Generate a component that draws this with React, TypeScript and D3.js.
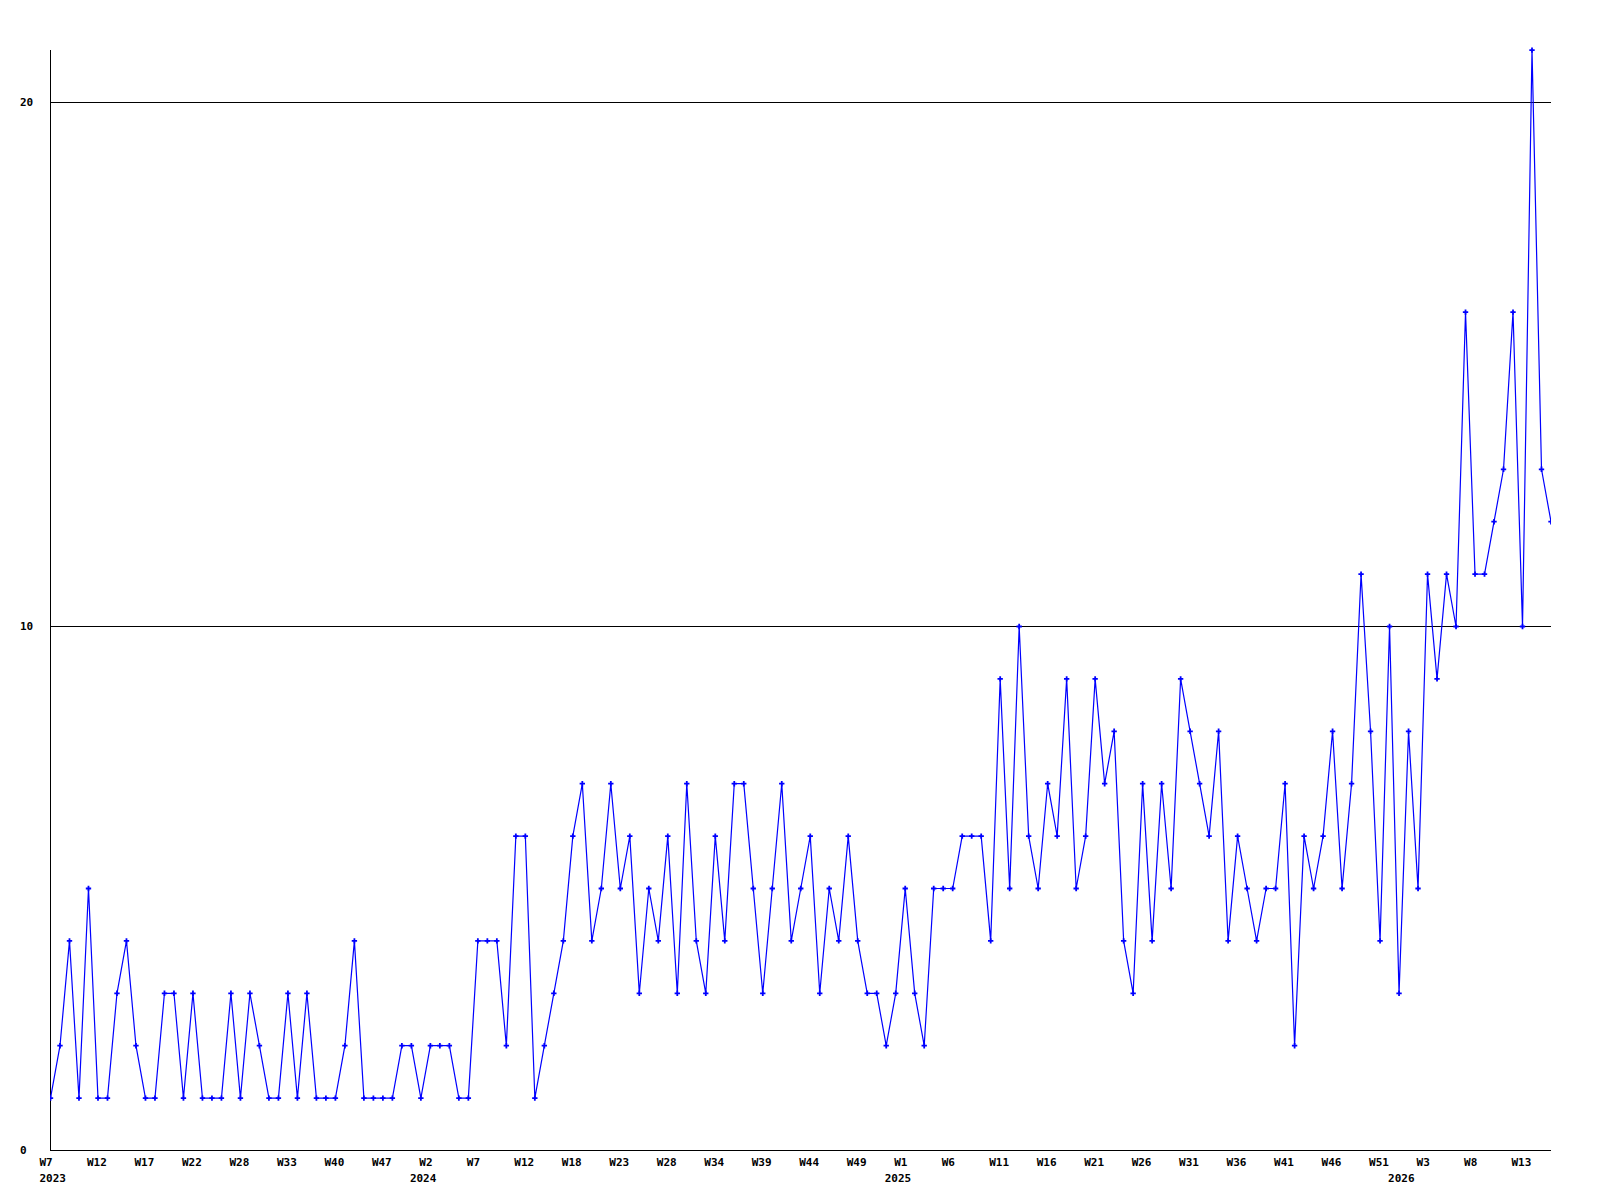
import React from 'react';
import * as d3 from 'd3';

// weekly counts, one per sample point (2023 W7 ... 2026)
const values: number[] = [
  1, 2, 4, 1, 5, 1, 1, 3, 4, 2,
  1, 1, 3, 3, 1, 3, 1, 1, 1, 3,
  1, 3, 2, 1, 1, 3, 1, 3, 1, 1,
  1, 2, 4, 1, 1, 1, 1, 2, 2, 1,
  2, 2, 2, 1, 1, 4, 4, 4, 2, 6,
  6, 1, 2, 3, 4, 6, 7, 4, 5, 7,
  5, 6, 3, 5, 4, 6, 3, 7, 4, 3,
  6, 4, 7, 7, 5, 3, 5, 7, 4, 5,
  6, 3, 5, 4, 6, 4, 3, 3, 2, 3,
  5, 3, 2, 5, 5, 5, 6, 6, 6, 4,
  9, 5, 10, 6, 5, 7, 6, 9, 5, 6,
  9, 7, 8, 4, 3, 7, 4, 7, 5, 9,
  8, 7, 6, 8, 4, 6, 5, 4, 5, 5,
  7, 2, 6, 5, 6, 8, 5, 7, 11, 8,
  4, 10, 3, 8, 5, 11, 9, 11, 10, 16,
  11, 11, 12, 13, 16, 10, 21, 13, 12,
];

const weekLabels: string[] = [
  'W7', 'W12', 'W17', 'W22', 'W28', 'W33', 'W40', 'W47',
  'W2', 'W7', 'W12', 'W18', 'W23', 'W28', 'W34', 'W39',
  'W44', 'W49', 'W1', 'W6', 'W11', 'W16', 'W21', 'W26',
  'W31', 'W36', 'W41', 'W46', 'W51', 'W3', 'W8', 'W13',
];
const weekLabelStep = 5;

const yearLabels: string[] = ['2023', '2024', '2025', '2026'];
const yearLabelIndex: number[] = [0, 39, 89, 142];

const yTicks: number[] = [0, 10, 20];
const yGridLines: number[] = [10, 20];
const yMax = 21;

export default function App() {
  const W = 1600;
  const H = 1200;
  const x = d3.scaleLinear().domain([0, values.length - 1]).range([50.5, 1551]);
  const y = d3.scaleLinear().domain([0, yMax]).range([1150.5, 50.1]);
  const linePath = d3
    .line<number>()
    .x((_, i) => x(i))
    .y((d) => y(d))(values) as string;
  const cross = d3.symbol().type(d3.symbolCross).size(16)() as string;
  const font = '"DejaVu Sans Mono", monospace';

  return (
    <svg
      width={W}
      height={H}
      style={{ position: 'absolute', left: 0, top: 0, background: '#fff' }}
    >
      <rect x={0} y={0} width={W} height={H} fill="#fff" />
      <defs>
        <clipPath id="plot">
          <rect x={50} y={44} width={1551 - 50} height={1110} />
        </clipPath>
      </defs>
      {/* gridlines */}
      {yGridLines.map((v) => (
        <line
          key={v}
          x1={x(0)}
          x2={x(values.length - 1)}
          y1={Math.floor(y(v)) + 0.5}
          y2={Math.floor(y(v)) + 0.5}
          stroke="#000"
          strokeWidth={1}
          shapeRendering="crispEdges"
        />
      ))}
      {/* axes */}
      <line
        x1={x(0)}
        x2={x(values.length - 1)}
        y1={y(0)}
        y2={y(0)}
        stroke="#000"
        strokeWidth={1}
        shapeRendering="crispEdges"
      />
      <line
        x1={x(0)}
        x2={x(0)}
        y1={y(yMax)}
        y2={y(0)}
        stroke="#000"
        strokeWidth={1}
        shapeRendering="crispEdges"
      />
      {/* y labels */}
      {yTicks.map((v) => (
        <text
          key={v}
          x={20}
          y={y(v)}
          dy="0.35em"
          fontFamily={font}
          fontWeight="bold"
          fontSize={11}
          fill="#000"
        >
          {v}
        </text>
      ))}
      {/* x week labels */}
      {weekLabels.map((lab, k) => (
        <text
          key={k}
          x={x(k * weekLabelStep) - 11}
          y={1166}
          fontFamily={font}
          fontWeight="bold"
          fontSize={11}
          fill="#000"
        >
          {lab}
        </text>
      ))}
      {/* year labels */}
      {yearLabels.map((lab, k) => (
        <text
          key={lab}
          x={x(yearLabelIndex[k]) - 11}
          y={1182}
          fontFamily={font}
          fontWeight="bold"
          fontSize={11}
          fill="#000"
        >
          {lab}
        </text>
      ))}
      {/* series */}
      <g clipPath="url(#plot)">
        <path d={linePath} fill="none" stroke="#0000ff" strokeWidth={1.2} />
        {values.map((v, i) => (
          <path
            key={i}
            d={cross}
            transform={`translate(${x(i)},${y(v)})`}
            fill="#0000ff"
          />
        ))}
      </g>
    </svg>
  );
}
